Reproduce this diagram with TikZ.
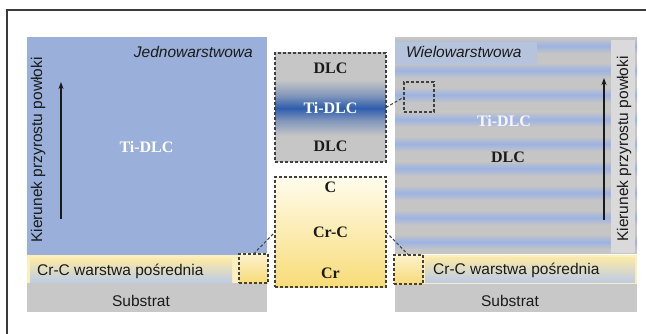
\documentclass[tikz,border=0pt]{standalone}
\usepackage{fontspec}
\setmainfont{Liberation Serif}
\setsansfont{Liberation Sans}
\usetikzlibrary{arrows.meta}
\definecolor{leftblue}{HTML}{9AB0DA}
\definecolor{panelgray}{HTML}{C5C5C5}
\definecolor{stripeblue}{HTML}{9CB3E3}
\definecolor{subgray}{HTML}{C8C8C8}
\definecolor{wlabel}{HTML}{B6C3DC}
\definecolor{kbox}{HTML}{DADADA}
\definecolor{bandyel}{HTML}{FBEFC0}
\definecolor{lbltop}{HTML}{FAE9A9}
\definecolor{lblbot}{HTML}{BCCBE6}
\definecolor{cgray}{HTML}{C6C6C6}
\definecolor{cblue}{HTML}{2E5DAE}
\colorlet{cbluemid}{cblue!45!cgray}
\definecolor{cbtop}{HTML}{FFFCEC}
\definecolor{cbbot}{HTML}{F8DC78}
\definecolor{sbtop}{HTML}{FDF3CC}
\definecolor{sbbot}{HTML}{F7DA78}
\definecolor{dashcol}{HTML}{404040}
\definecolor{framecol}{HTML}{3A3A3A}
\definecolor{txtdark}{HTML}{1A1A1A}
\pgfdeclareverticalshading{ctshade}{100bp}{color(0bp)=(cgray); color(37bp)=(cgray); color(44bp)=(cbluemid); color(49.7bp)=(cblue); color(55.5bp)=(cbluemid); color(62.6bp)=(cgray); color(100bp)=(cgray)}
\tikzset{
  box/.style={inner sep=0pt, outer sep=0pt},
  dbox/.style={box, draw=dashcol, line width=1.1pt, dash pattern=on 3pt off 2pt},
  conn/.style={draw=dashcol, line width=1pt, dash pattern=on 3pt off 2pt},
  sanstxt/.style={font=\sffamily\fontsize{15.5}{18}\selectfont, text=txtdark, inner sep=0pt},
  itxt/.style={font=\sffamily\itshape\fontsize{15.5}{18}\selectfont, text=txtdark, inner sep=0pt},
  sertxt/.style={font=\bfseries\fontsize{16}{19}\selectfont, inner sep=0pt},
  growarrow/.style={draw=txtdark, line width=1.1pt, -{Stealth[length=7pt,width=5pt]}},
}
\begin{document}
\begin{tikzpicture}[x=1pt,y=-1pt]
\useasboundingbox (0,0) rectangle (646,334);
\fill[white] (0,0) rectangle (646,334);
% frame
\draw[framecol, line width=1.3pt] (7,334) -- (7,10) -- (646,10);

% ---------- left panel ----------
\node[box, fill=leftblue, minimum width=240pt, minimum height=218pt] (lp) at (147,146) {};
\node[box, fill=bandyel, minimum width=240pt, minimum height=28pt] (lb) at (147,269) {};
\node[box, top color=lbltop, bottom color=lblbot, minimum width=202pt, minimum height=24pt] (ll) at (131,271) {};
\node[sanstxt, anchor=base west] (lltxt) at (37,276) {Cr-C warstwa pośrednia};
\node[box, fill=subgray, minimum width=240pt, minimum height=29pt] (ls) at (147,297.5) {};
\node[sanstxt, anchor=base] (lstxt) at (141,306) {Substrat};
\node[dbox, top color=sbtop, bottom color=sbbot, minimum width=29pt, minimum height=29pt] (lsb) at (253.5,268.5) {};
\node[itxt, anchor=base east] (jtxt) at (253,58) {Jednowarstwowa};
\node[sertxt, text=white, anchor=base] (ltidlc) at (146.5,153) {Ti-DLC};
\node[sanstxt, rotate=90] (lktxt) at (38,150) {Kierunek przyrostu powłoki};
\coordinate (la1) at (61,219);
\coordinate (la2) at (61,82);
\draw[growarrow] (la1) -- (la2);

% ---------- right panel ----------
\node[box, fill=panelgray, minimum width=242pt, minimum height=217pt] (rp) at (516,145.5) {};
\begin{scope}
\clip (395,37) rectangle (637,254);
\foreach \c in {46,70.5,95,119.5,144,168.5,193,217.5,242}{
  \shade[top color=panelgray, bottom color=panelgray, middle color=stripeblue] (395,\c-7.5) rectangle (637,\c+7.5);
}
\end{scope}
\node[box, fill=wlabel, minimum width=142pt, minimum height=22pt] (wl) at (466,53) {};
\node[itxt, anchor=base west] (wtxt) at (406,58) {Wielowarstwowa};
\node[box, fill=kbox, minimum width=24pt, minimum height=213pt] (kb) at (623,146.5) {};
\node[sanstxt, rotate=90] (rktxt) at (624,149) {Kierunek przyrostu powłoki};
\coordinate (ra1) at (604,220);
\coordinate (ra2) at (604,78);
\draw[growarrow] (ra1) -- (ra2);
\node[sertxt, text=white!96!blue, anchor=base] (rtidlc) at (504,127) {Ti-DLC};
\node[sertxt, text=txtdark, anchor=base] (rdlc) at (508,163) {DLC};
\node[dbox, minimum width=30pt, minimum height=30pt] (rt) at (419,97) {};

\node[box, fill=bandyel, minimum width=242pt, minimum height=29pt] (rb) at (516,269.5) {};
\node[box, top color=lbltop, bottom color=lblbot, minimum width=210pt, minimum height=25pt] (rl) at (530,270) {};
\node[sanstxt, anchor=base west] (rltxt) at (433,275) {Cr-C warstwa pośrednia};
\node[box, fill=subgray, minimum width=242pt, minimum height=28pt] (rs2) at (516,298) {};
\node[sanstxt, anchor=base] (rstxt) at (510,306) {Substrat};
\node[dbox, top color=sbtop, bottom color=sbbot, minimum width=29pt, minimum height=29pt] (rs) at (408.5,269.5) {};

% ---------- centre boxes ----------
\node[dbox, shade, shading=ctshade, minimum width=111pt, minimum height=109pt] (ct) at (330.5,107.5) {};
\node[sertxt, text=txtdark, anchor=base] (ctd1) at (330.5,74) {DLC};
\node[sertxt, text=white, anchor=base] (ctti) at (330.5,114) {Ti-DLC};
\node[sertxt, text=txtdark, anchor=base] (ctd2) at (330.5,152) {DLC};

\node[dbox, top color=cbtop, bottom color=cbbot, minimum width=111pt, minimum height=110pt] (cb) at (330.5,232) {};
\node[sertxt, text=txtdark, anchor=base] (cbc) at (330.5,193) {C};
\node[sertxt, text=txtdark, anchor=base] (cbcrc) at (330.5,237) {Cr-C};
\node[sertxt, text=txtdark, anchor=base] (cbcr) at (330.5,279) {Cr};

% ---------- connectors ----------
\draw[conn] (lsb.north) -- (cb.west);
\draw[conn] (cb.east) -- (rs.north);
\draw[conn] (ct.east) -- (rt.west);
\end{tikzpicture}
\end{document}
